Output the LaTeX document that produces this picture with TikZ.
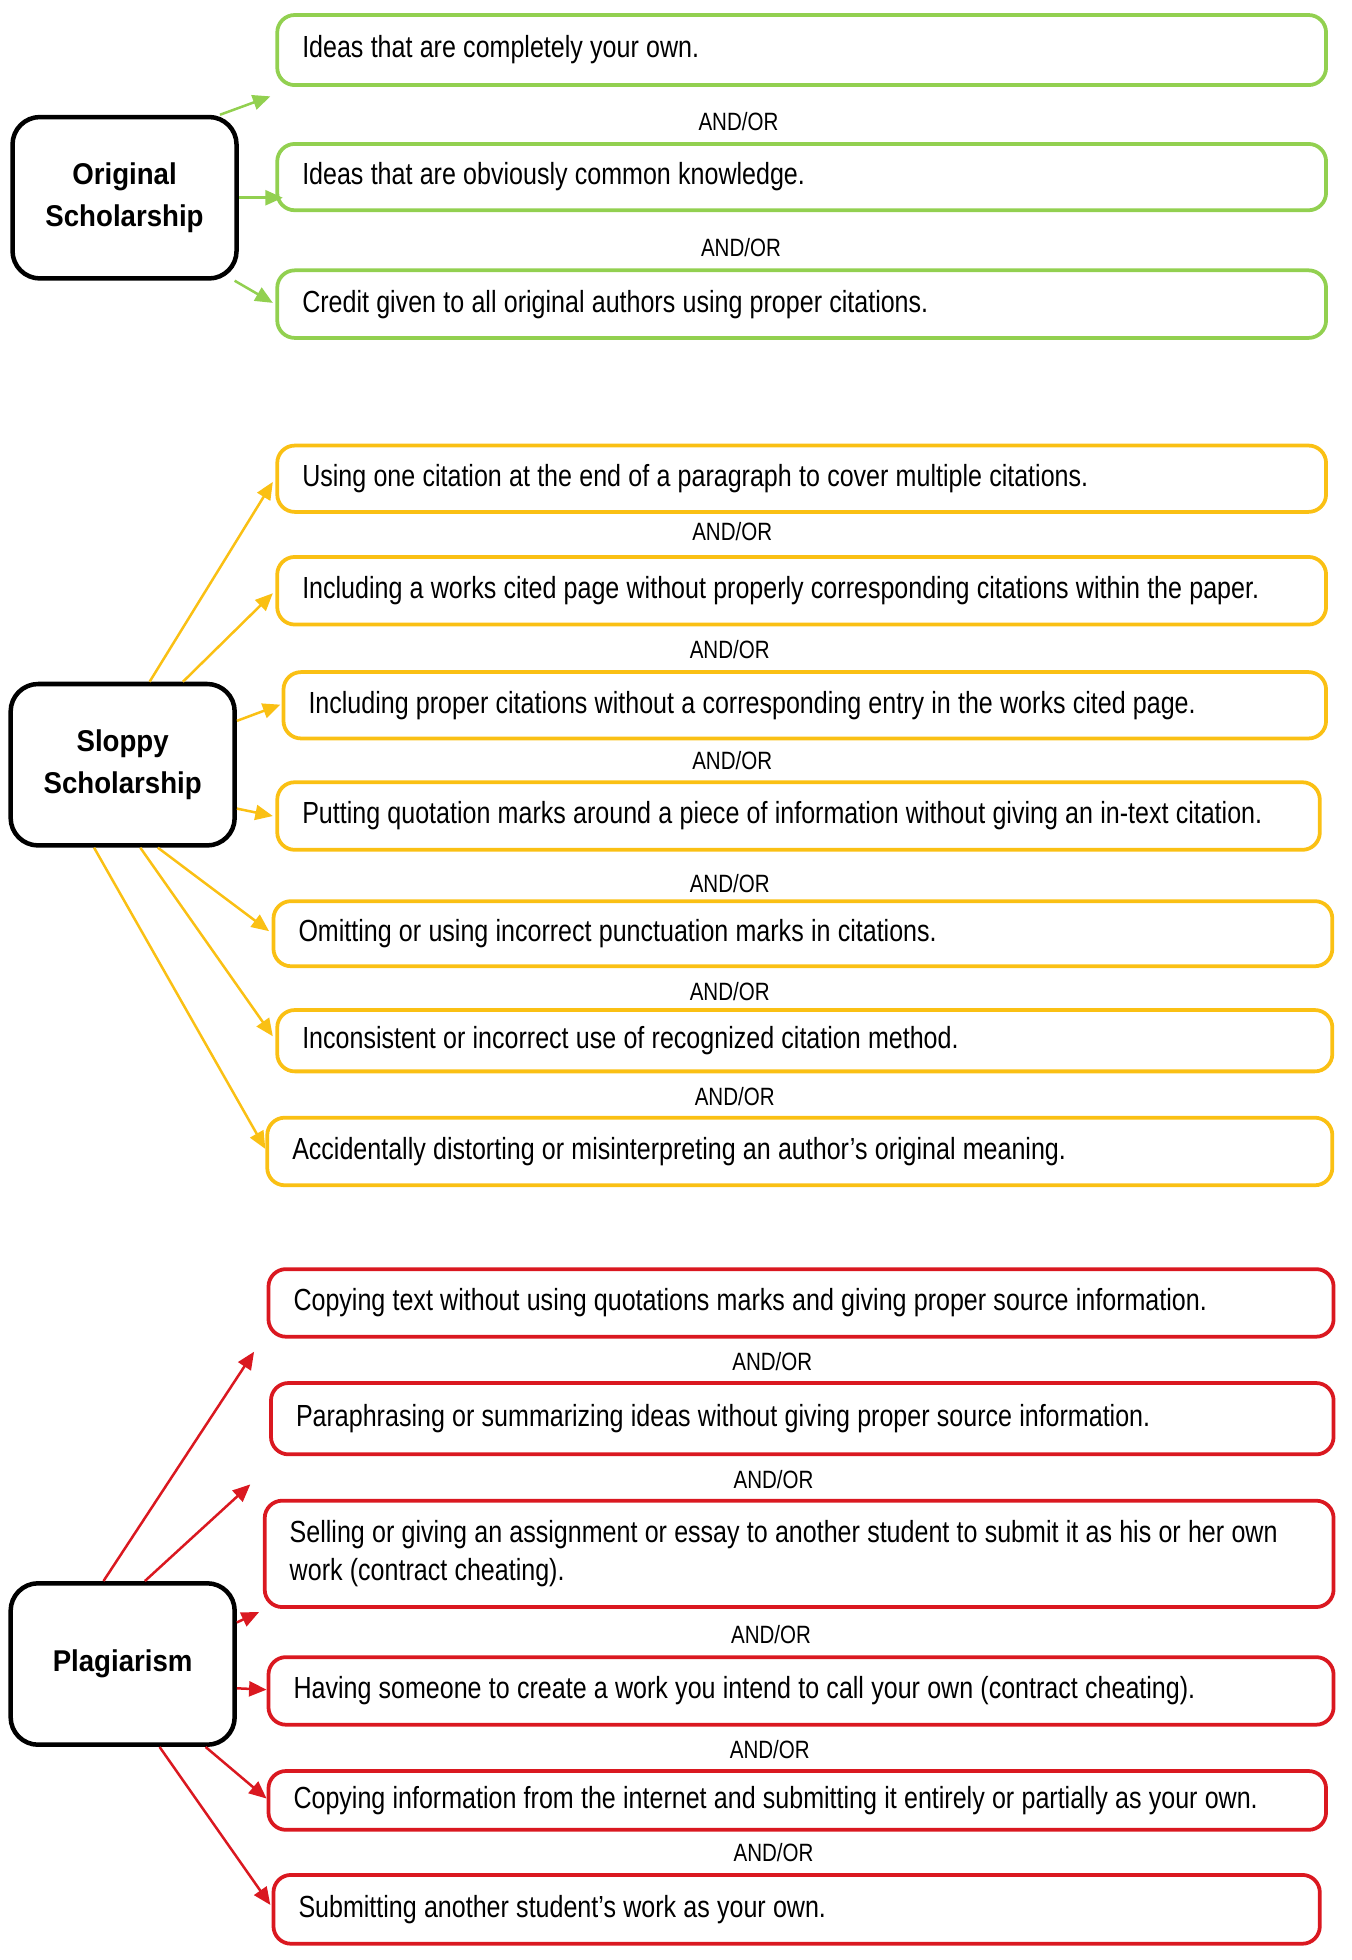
\documentclass[tikz,border=0pt]{standalone}
\usepackage{fontspec}
\setmainfont[FakeStretch=0.82]{Liberation Sans}
\newfontfamily\titlefont[FakeStretch=0.92]{Liberation Sans}
\usepackage{xcolor}
\usetikzlibrary{arrows.meta}
\definecolor{origGreen}{RGB}{146, 208, 80}
\definecolor{sloppyGold}{RGB}{250, 192, 20}
\definecolor{plagRed}{RGB}{218, 24, 32}
\newcommand{\itemfont}{\fontsize{12.2pt}{15pt}\selectfont}

\begin{document}
\begin{tikzpicture}[x=0.5pt,y=-0.5pt,
    headbox/.style={draw=black,line width=1.8pt,rounded corners=11pt,minimum width=89.5pt,minimum height=64.5pt,align=center,font=\titlefont\bfseries\fontsize{12pt}{16.5pt}\selectfont},
    itembox/.style={draw=#1,line width=1.5pt,rounded corners=7pt,anchor=west,inner xsep=10pt,align=flush left,font=\itemfont,
        execute at begin node={\spaceskip=2.9pt plus 1pt minus 0.5pt\xspaceskip=2.9pt\hyphenpenalty=10000\relax}},
    andor/.style={font=\fontsize{10pt}{12pt}\selectfont,inner sep=0pt},
    link/.style={draw=#1,line width=1pt,-{Triangle[length=7pt,width=6pt]}}]
    \useasboundingbox (0,0) rectangle (1080,1566);

            % Original scholarship
            \node[headbox] (orig) at (99.5,158) {Original\\Scholarship};
            \node[itembox=origGreen,text width=399pt,minimum height=28pt] (og1) at (220,40) {Ideas that are completely your own.};
            \node[itembox=origGreen,text width=399pt,minimum height=26.5pt] (og2) at (220,141.5) {Ideas that are obviously common knowledge.};
            \node[itembox=origGreen,text width=399pt,minimum height=27pt] (og3) at (220,243) {Credit given to all original authors using proper citations.};
            \node[andor] (oa1) at (590,97) {AND/OR};
            \node[andor] (oa2) at (592,198) {AND/OR};

            \coordinate (ogt1) at (216,77);
            \coordinate (ogt2) at (226,158);
            \coordinate (ogt3) at (218,242);
            \draw[link=origGreen] (orig.41) -- (ogt1);
            \draw[link=origGreen] (orig.0) -- (ogt2);
            \draw[link=origGreen] (orig.-37) -- (ogt3);

            % Sloppy scholarship
            \node[headbox] (sloppy) at (98,611) {Sloppy\\Scholarship};
            \node[itembox=sloppyGold,text width=399pt,minimum height=26.5pt] (sl1) at (220,382.5) {Using one citation at the end of a paragraph to cover multiple citations.};
            \node[itembox=sloppyGold,text width=399pt,minimum height=27pt] (sl2) at (220,472) {Including a works cited page without properly corresponding citations within the paper.};
            \node[itembox=sloppyGold,text width=396.5pt,minimum height=26.5pt] (sl3) at (225,563.5) {Including proper citations without a corresponding entry in the works cited page.};
            \node[itembox=sloppyGold,text width=396.5pt,minimum height=27pt] (sl4) at (220,652) {Putting quotation marks around a piece of information without giving an in-text citation.};
            \node[itembox=sloppyGold,text width=403pt,minimum height=26pt] (sl5) at (217,746) {Omitting or using incorrect punctuation marks in citations.};
            \node[itembox=sloppyGold,text width=401.5pt,minimum height=24.5pt] (sl6) at (220,831.5) {Inconsistent or incorrect use of recognized citation method.};
            \node[itembox=sloppyGold,text width=405.5pt,minimum height=27pt] (sl7) at (212,920) {Accidentally distorting or misinterpreting an author’s original meaning.};
            \node[andor] (sa1) at (585,425) {AND/OR};
            \node[andor] (sa2) at (583,519) {AND/OR};
            \node[andor] (sa3) at (585,608) {AND/OR};
            \node[andor] (sa4) at (583,706) {AND/OR};
            \node[andor] (sa5) at (583,792) {AND/OR};
            \node[andor] (sa6) at (587,876) {AND/OR};

            \coordinate (slt1) at (218,385);
            \coordinate (slt2) at (218,474);
            \coordinate (slt3) at (224,563);
            \coordinate (slt4) at (218,652);
            \coordinate (slt5) at (215,744);
            \coordinate (slt6) at (218,828);
            \coordinate (slt7) at (212,918);
            \draw[link=sloppyGold] (sloppy.72) -- (slt1);
            \draw[link=sloppyGold] (sloppy.54.5) -- (slt2);
            \draw[link=sloppyGold] (sloppy.21.5) -- (slt3);
            \draw[link=sloppyGold] (sloppy.-21) -- (slt4);
            \draw[link=sloppyGold] (sloppy.-67.2) -- (slt5);
            \draw[link=sloppyGold] (sloppy.-78) -- (slt6);
            \draw[link=sloppyGold] (sloppy.251.5) -- (slt7);

            % Plagiarism
            \node[headbox] (plag) at (98,1329.5) {Plagiarism};
            \node[itembox=plagRed,text width=405.5pt,minimum height=27pt] (pl1) at (213,1041) {Copying text without using quotations marks and giving proper source information.};
            \node[itembox=plagRed,text width=404.5pt,minimum height=28.5pt] (pl2) at (215,1133.5) {Paraphrasing or summarizing ideas without giving proper source information.};
            \node[itembox=plagRed,text width=407pt,minimum height=42.5pt] (pl3) at (210,1241.5) {Selling or giving an assignment or essay to another student to submit it as his or her own\\work (contract cheating).};
            \node[itembox=plagRed,text width=405.5pt,minimum height=27pt] (pl4) at (213,1351) {Having someone to create a work you intend to call your own (contract cheating).};
            \node[itembox=plagRed,text width=402.5pt,minimum height=23.5pt] (pl5) at (213,1438.5) {Copying information from the internet and submitting it entirely or partially as your own.};
            \node[itembox=plagRed,text width=398pt,minimum height=27.5pt] (pl6) at (217,1525.5) {Submitting another student’s work as your own.};
            \node[andor] (pa1) at (617,1088) {AND/OR};
            \node[andor] (pa2) at (618,1182) {AND/OR};
            \node[andor] (pa3) at (616,1306) {AND/OR};
            \node[andor] (pa4) at (615,1398) {AND/OR};
            \node[andor] (pa5) at (618,1480) {AND/OR};

            \coordinate (plt1) at (203,1080);
            \coordinate (plt2) at (200,1186);
            \coordinate (plt3) at (207,1288);
            \coordinate (plt4) at (213,1350);
            \coordinate (plt5) at (213,1437);
            \coordinate (plt6) at (216,1522);
            \draw[link=plagRed] (plag.103.3) -- (plt1);
            \draw[link=plagRed] (plag.75.9) -- (plt2);
            \draw[link=plagRed] (plag.20.4) -- (plt3);
            \draw[link=plagRed] (plag.-12.2) -- (plt4);
            \draw[link=plagRed] (plag.-45.7) -- (plt5);
            \draw[link=plagRed] (plag.-66.4) -- (plt6);
        \end{tikzpicture}
\end{document}
